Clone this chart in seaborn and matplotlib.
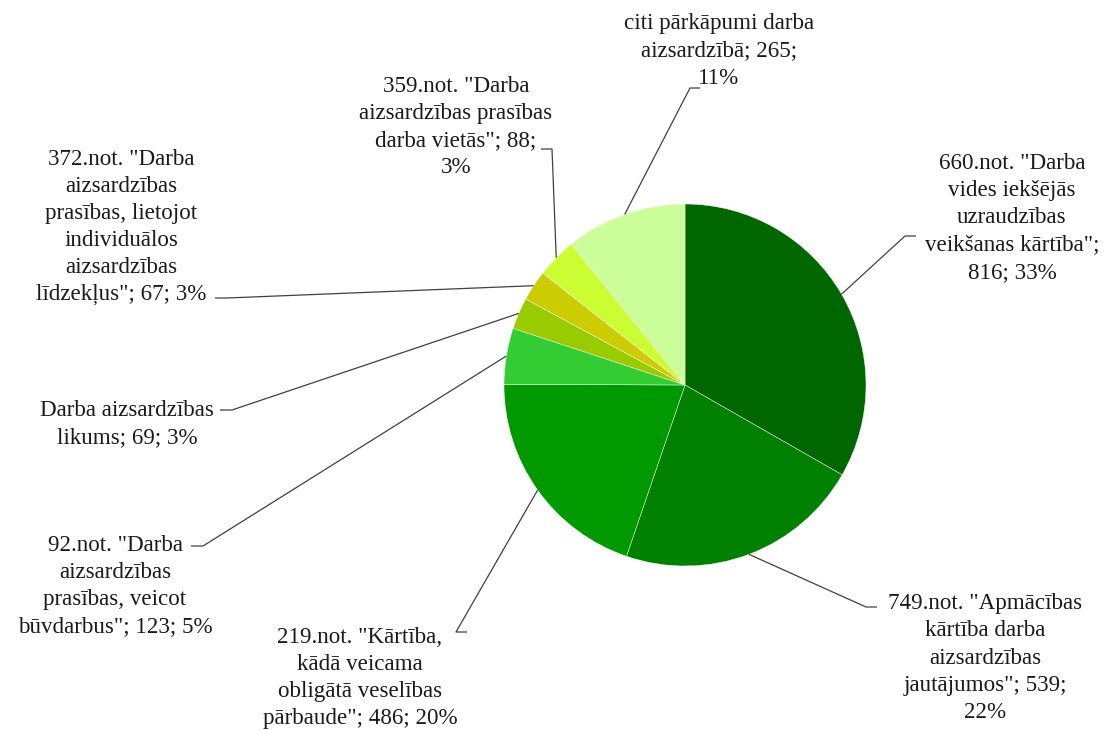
import matplotlib
matplotlib.use("Agg")
import numpy as np
import matplotlib.pyplot as plt
import seaborn as sns

# data (clockwise from 12 o'clock)
categories = [
    '660.not. "Darba vides iekšējās uzraudzības veikšanas kārtība"',
    '749.not. "Apmācības kārtība darba aizsardzības jautājumos"',
    '219.not. "Kārtība, kādā veicama obligātā veselības pārbaude"',
    '92.not. "Darba aizsardzības prasības, veicot būvdarbus"',
    'Darba aizsardzības likums',
    '372.not. "Darba aizsardzības prasības, lietojot individuālos aizsardzības līdzekļus"',
    '359.not. "Darba aizsardzības prasības darba vietās"',
    'citi pārkāpumi darba aizsardzībā',
]
counts = [816, 539, 486, 123, 69, 67, 88, 265]
percents = ["33%", "22%", "20%", "5%", "3%", "3%", "3%", "11%"]

# label text as wrapped in the reference
labels = [
    '660.not. "Darba\nvides iekšējās\nuzraudzības\nveikšanas kārtība";\n816; 33%',
    '749.not. "Apmācības\nkārtība darba\naizsardzības\njautājumos"; 539;\n22%',
    '219.not. "Kārtība,\nkādā veicama\nobligātā veselības\npārbaude"; 486; 20%',
    '92.not. "Darba\naizsardzības\nprasības, veicot\nbūvdarbus"; 123; 5%',
    'Darba aizsardzības\nlikums; 69; 3%',
    '372.not. "Darba\naizsardzības\nprasības, lietojot\nindividuālos\naizsardzības\nlīdzekļus"; 67; 3%',
    '359.not. "Darba\naizsardzības prasības\ndarba vietās"; 88;\n3%',
    'citi pārkāpumi darba\naizsardzībā; 265;\n11%',
]
colors = ["#006600", "#008000", "#009900", "#33cc33",
          "#99cc00", "#cccc00", "#ccff33", "#ccff99"]

# layout (pixels): label centre, elbow of leader, end of short horizontal
W, H = 1105, 731
CX, CY, R = 685, 385, 181
text_pos = [(1012, 218), (985, 658), (360, 678), (115, 586),
            (127, 424), (121, 227), (456, 127), (719, 51)]
elbows = [(905, 236), (866, 607), (456, 632), (203, 546),
          (232, 410), (227, 298), (552, 149), (690, 88)]
ends = [(916, 236), (877, 607), (467, 632), (191, 546),
        (220, 410), (215, 298), (541, 149), (700, 88)]


def px(x, y):
    return (x - CX) / R, (CY - y) / R


sns.set_theme(style="white")
plt.rcParams["font.family"] = ["Liberation Serif", "DejaVu Serif"]

fig = plt.figure(figsize=(W / 100, H / 100), dpi=100)
ax = fig.add_axes([0, 0, 1, 1])

wedges, _ = ax.pie(counts, colors=colors, startangle=90, counterclock=False,
                   radius=1, center=(0, 0),
                   wedgeprops=dict(edgecolor="white", linewidth=0.3))

ax.set_xlim(-CX / R, (W - CX) / R)
ax.set_ylim((CY - H) / R, CY / R)
ax.set_aspect("equal")
ax.axis("off")

for w, lab, tp, el, en in zip(wedges, labels, text_pos, elbows, ends):
    mid = np.deg2rad((w.theta1 + w.theta2) / 2)
    ax_, ay_ = np.cos(mid), np.sin(mid)
    ex, ey = px(*el)
    hx, hy = px(*en)
    ax.plot([ax_, ex, hx], [ay_, ey, hy], color="#404040", lw=0.9,
            solid_capstyle="butt")
    tx, ty = px(*tp)
    ax.text(tx, ty, lab, ha="center", va="center", multialignment="center",
            fontsize=16.6, color="#1a1a1a", linespacing=1.38)

fig.savefig("out.png", dpi=100, facecolor="white")
